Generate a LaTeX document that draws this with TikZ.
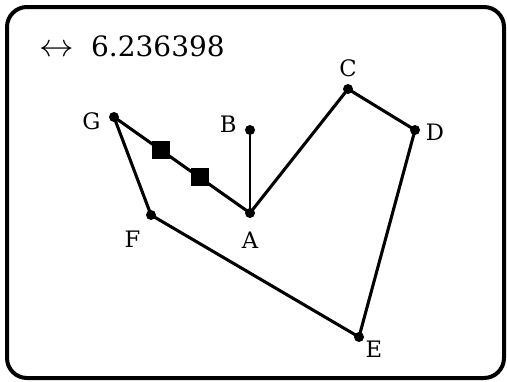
\documentclass[tikz,border=0pt]{standalone}
\usepackage{fontspec}
\setmainfont{DejaVu Serif}
\usetikzlibrary{positioning,calc}

\begin{document}
\begin{tikzpicture}[
        x=0.75pt, y=-0.75pt,
        node distance=2pt,
        frame/.style={draw=black, line width=3pt, rounded corners=15pt},
        pt/.style={circle, fill=black, inner sep=0pt, minimum size=7.5pt},
        seg/.style={draw=black, line width=2.3pt},
        thin seg/.style={draw=black, line width=1.7pt},
        tick/.style={rectangle, fill=black, inner sep=0pt, minimum size=13.5pt},
        lbl/.style={inner sep=1pt, font=\fontsize{17}{17}\selectfont},
        readout/.style={anchor=west, inner sep=0pt, font=\fontsize{21}{21}\selectfont}
    ]
    \useasboundingbox (0,0) rectangle (507,382);
    % Frame
    \draw[frame] (7,7) rectangle (504,378);

    % Length readout
    \node[readout] (len) at (39,46) {\scalebox{1.25}[1.15]{$\leftrightarrow$}\hspace{13pt}6.236398};

    % Points
    \node[pt] (A) at (250,213) {};
    \node[pt] (B) at (250,130) {};
    \node[pt] (C) at (348,89) {};
    \node[pt] (D) at (415,130) {};
    \node[pt] (E) at (359,337) {};
    \node[pt] (F) at (151,215) {};
    \node[pt] (G) at (114,117) {};

    % Segments
    \draw[seg] (G.center) -- (A.center);
    \draw[thin seg] (A.center) -- (B.center);
    \draw[seg] (A.center) -- (C.center) -- (D.center) -- (E.center) -- (F.center) -- (G.center);

    % Congruence marks on GA
    \node[tick] (m1) at ($(G)!0.345!(A)$) {};
    \node[tick] (m2) at ($(G)!0.63!(A)$) {};

    % Labels
    \node[lbl, left=5pt of G, yshift=-3pt] (lG) {G};
    \node[lbl, left=5pt of B, yshift=4pt] (lB) {B};
    \node[lbl, below=9pt of A] (lA) {A};
    \node[lbl, above=4pt of C] (lC) {C};
    \node[lbl, right=3pt of D, yshift=-2pt] (lD) {D};
    \node[lbl, below right=-1pt and 1pt of E] (lE) {E};
    \node[lbl, below left=8pt and 4pt of F] (lF) {F};
\end{tikzpicture}
\end{document}
